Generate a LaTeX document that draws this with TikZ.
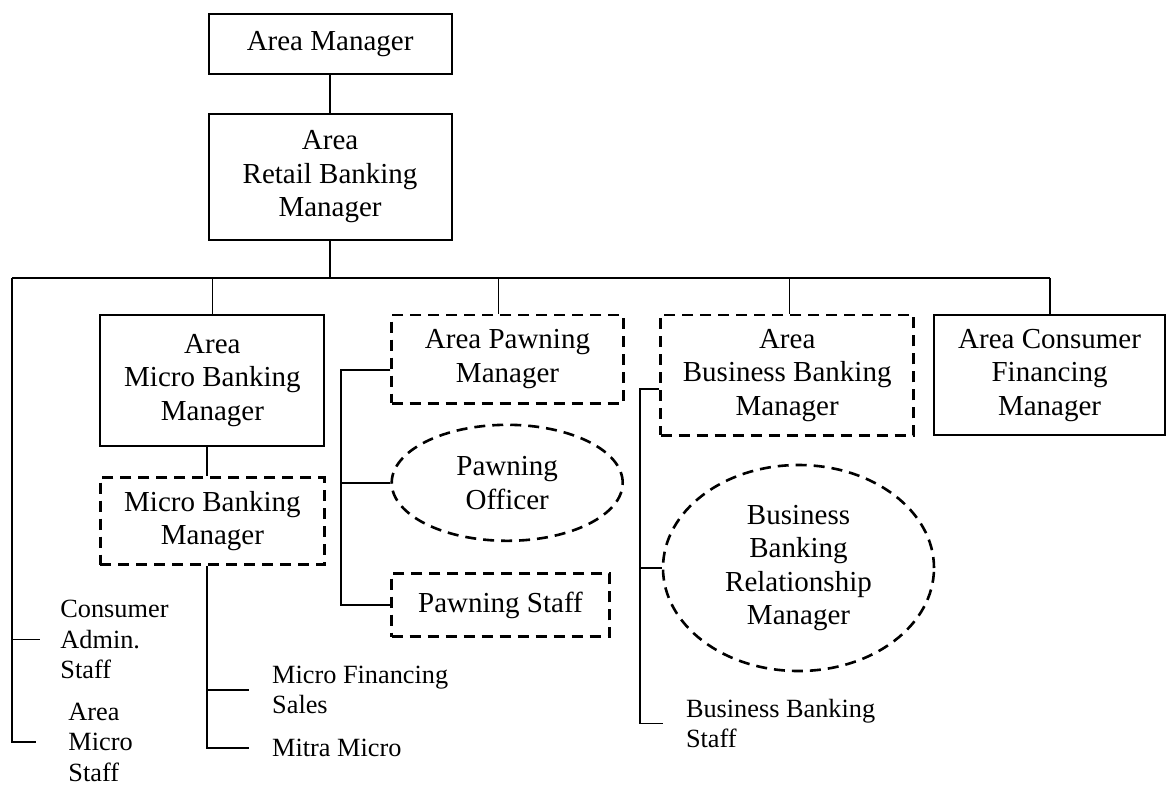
\documentclass[tikz,border=0pt]{standalone}
\usepackage{fontspec}
\setmainfont{Liberation Serif}
\usetikzlibrary{shapes.geometric}

\tikzset{
  post/.style={draw, line width=1pt, align=center, inner sep=0pt,
    font=\fontsize{14.5}{16.75}\selectfont},
  plan/.style={post, line width=1.3pt, dash pattern=on 5.5pt off 3.5pt},
  oval/.style={plan, ellipse},
  dims/.style 2 args={minimum width=#1*0.5pt, minimum height=#2*0.5pt},
  staff/.style={anchor=west, align=left, inner ysep=0pt,
    font=\fontsize{13.15}{15.25}\selectfont},
  link/.style={line width=0.85pt}
}

\begin{document}
\begin{tikzpicture}[x=0.5pt, y=-0.5pt]
  \useasboundingbox (0,0) rectangle (1168,784);

  % top of the chart
  \node[post, dims={243}{60}] (am) at (330.1,44.3) {Area Manager};
  \node[post, dims={243}{125.7}] (ar) at (330.1,176.9) {Area\\Retail Banking\\Manager};

  % second level
  \node[post, dims={224}{130.6}] (amb) at (212.4,380.3) {Area\\Micro Banking\\Manager};
  \node[plan, dims={231.6}{88.3}] (apm) at (507.5,359.2) {Area Pawning\\Manager};
  \node[plan, dims={253}{120.5}] (abbm) at (787.2,375.2) {Area\\Business Banking\\Manager};
  \node[post, dims={231}{120.5}] (acfm) at (1049.6,375.2) {Area Consumer\\Financing\\Manager};

  % units under the area managers
  \node[plan, dims={224}{87}] (mbm) at (212.4,521) {Micro Banking\\Manager};
  \node[oval, dims={231}{116}] (po) at (507.2,482.8) {Pawning\\Officer};
  \node[plan, dims={217.6}{63.4}] (ps) at (500.5,605) {Pawning Staff};
  \node[oval, dims={271}{206}] (bbrm) at (798.5,568) {Business\\Banking\\Relationship\\Manager};

  % staff without a box
  \node[staff, inner xsep=10pt] (cas) at (40,639.5) {Consumer\\Admin.\\Staff};
  \node[staff, inner xsep=16pt] (ams) at (36,742) {Area\\Micro\\Staff};
  \node[staff, inner xsep=11.5pt] (mfs) at (248.8,690) {Micro Financing\\Sales};
  \node[staff, inner xsep=11.5pt] (mitra) at (248.8,748) {Mitra Micro};
  \node[staff, inner xsep=11.3pt] (bbs) at (663,723.4) {Business Banking\\Staff};

  % main line and the bus
  \coordinate (busL) at (12.3,278.3);
  \coordinate (busR) at (1050,278.3);
  \draw[link] (am) -- (ar);
  \draw[link] (ar.south) -- (ar.south |- busL);
  \draw[link] (busL) -- (busR);
  \foreach \n/\x in {amb/212.4, apm/498.5, abbm/789.5, acfm/1050} {
    \coordinate (drop) at (\x,278.3);
    \draw[link] (drop) -- (drop |- \n.north);
  }

  % left trunk
  \draw[link] (busL) -- (busL |- ams.west) -- (ams.west);
  \draw[link] (busL |- cas.west) -- (cas.west);

  % micro banking trunk
  \coordinate (mtrunk) at (206.7,0);
  \draw[link] (amb.south -| mtrunk) -- (mbm.north -| mtrunk);
  \draw[link] (mbm.south -| mtrunk) -- (mtrunk |- mitra.west) -- (mitra.west);
  \draw[link] (mtrunk |- mfs.west) -- (mfs.west);

  % pawning trunk
  \coordinate (ptop) at (340.7,370);
  \draw[link] (apm.west |- ptop) -- (ptop) -- (ptop |- ps.west) -- (ps.west);
  \draw[link] (ptop |- po.west) -- (po.west);

  % business banking trunk
  \coordinate (btop) at (640,389);
  \draw[link] (abbm.west |- btop) -- (btop) -- (btop |- bbs.west) -- (bbs.west);
  \draw[link] (btop |- bbrm.west) -- (bbrm.west);
\end{tikzpicture}
\end{document}
